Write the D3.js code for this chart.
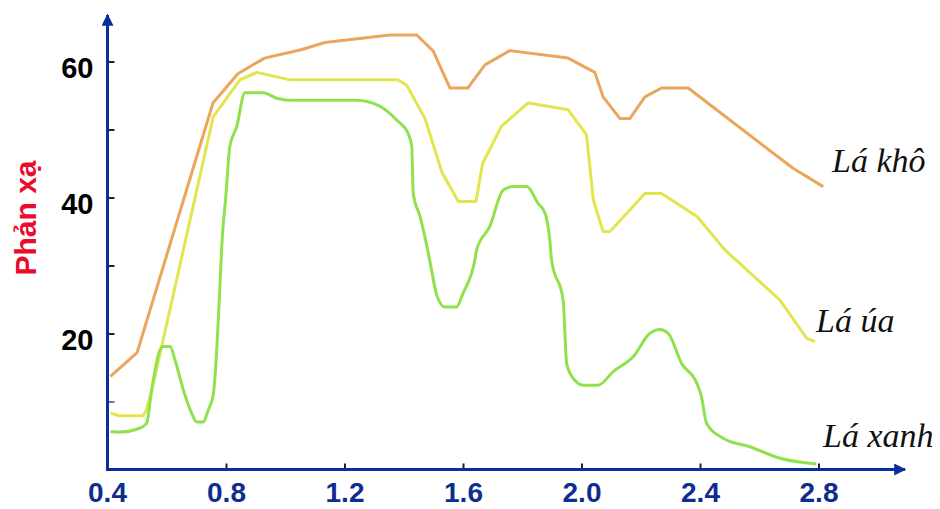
<!DOCTYPE html>
<html>
<head>
<meta charset="utf-8">
<script src="https://cdn.jsdelivr.net/npm/d3@7"></script>
<style>
  body { margin: 0; background: #fff; }
  svg { display: block; }
  .tick-x text { font-family: "Liberation Sans", Arial, sans-serif; font-weight: bold; fill: #0d2d8f; }
  .tick-y text { font-family: "Liberation Sans", Arial, sans-serif; font-weight: bold; fill: #000; }
  .series-label { font-family: "Liberation Serif", "Times New Roman", serif; font-style: italic; fill: #111; }
</style>
</head>
<body>
<div id="chart"></div>
<script>
// wavelength ticks (µm) and reflectance ticks (%)
const xTicks = [0.4, 0.8, 1.2, 1.6, 2.0, 2.4, 2.8];
const yTicks = [10, 20, 30, 40, 50, 60];
const yLabels = [20, 40, 60];

// Lá khô (dry leaf)
const dryX = [0.41, 0.50, 0.756, 0.84, 0.93, 1.05, 1.134, 1.353, 1.444, 1.50, 1.556, 1.616, 1.674, 1.758, 1.955, 2.045, 2.073, 2.13, 2.163, 2.214, 2.27, 2.36, 2.714, 2.816];
const dryY = [13.7, 17.2, 53.9, 58.2, 60.5, 61.7, 62.8, 63.9, 63.9, 61.5, 56.1, 56.1, 59.5, 61.6, 60.5, 58.4, 54.8, 51.6, 51.6, 54.8, 56.1, 56.1, 44.3, 41.6];

// Lá úa (yellowing leaf)
const yellowX = [0.41, 0.44, 0.52, 0.53, 0.55, 0.757, 0.847, 0.904, 1.016, 1.38, 1.41, 1.472, 1.528, 1.584, 1.644, 1.666, 1.73, 1.82, 1.955, 2.017, 2.04, 2.073, 2.096, 2.214, 2.27, 2.39, 2.484, 2.67, 2.76, 2.788];
const yellowY = [8.3, 7.9, 7.9, 8.6, 11.7, 51.9, 57.3, 58.4, 57.3, 57.3, 56.5, 51.6, 43.8, 39.4, 39.4, 45.0, 50.5, 53.9, 52.9, 49.2, 39.6, 35.0, 35.0, 40.6, 40.6, 37.2, 32.3, 24.9, 19.3, 18.8];

// Lá xanh (green leaf)
const greenX = [0.41, 0.44, 0.51, 0.532, 0.549, 0.577, 0.588, 0.611, 0.628, 0.656, 0.684, 0.701, 0.723, 0.74, 0.757, 0.78, 0.785, 0.80, 0.813, 0.836, 0.864, 0.926, 0.971, 1.016, 1.24, 1.32, 1.376, 1.415, 1.427, 1.432, 1.455, 1.483, 1.494, 1.511, 1.539, 1.578, 1.60, 1.64, 1.646, 1.69, 1.736, 1.77, 1.815, 1.854, 1.877, 1.893, 1.899, 1.938, 1.95, 1.972, 2.006, 2.056, 2.107, 2.175, 2.23, 2.265, 2.293, 2.338, 2.389, 2.405, 2.422, 2.478, 2.568, 2.67, 2.793];
const greenY = [5.6, 5.5, 6.1, 6.8, 11.7, 17.6, 18.1, 18.1, 16.1, 11.7, 8.3, 7.0, 7.0, 8.75, 11.0, 27.4, 32.3, 40.5, 47.5, 50.4, 55.4, 55.4, 54.6, 54.3, 54.3, 53.4, 51.4, 49.4, 47.5, 40.6, 37.2, 31.8, 29.3, 25.7, 23.9, 23.9, 25.9, 30.8, 32.3, 35.7, 41.1, 41.6, 41.6, 39.1, 37.7, 33.75, 30.8, 24.9, 15.6, 13.4, 12.4, 12.4, 14.4, 16.6, 20.0, 20.6, 20.0, 15.6, 12.7, 10.7, 6.8, 4.6, 3.35, 1.65, 0.8];

const seriesNames = ["Lá khô", "Lá úa", "Lá xanh"];
const seriesColors = ["#eba55c", "#e3e54f", "#8fe24c"];

const width = 940, height = 509;
const axisColor = "#0a2e9e";

const svg = d3.select("#chart").append("svg")
    .attr("width", width)
    .attr("height", height);

const x = d3.scaleLinear().domain([0.4, 2.8]).range([107.5, 818.5]);
const y = d3.scaleLinear().domain([0, 60]).range([469.5, 61.5]);

// arrow heads
const defs = svg.append("defs");
defs.append("marker")
    .attr("id", "arrow")
    .attr("viewBox", "0 0 10 10")
    .attr("refX", 9).attr("refY", 5)
    .attr("markerWidth", 5).attr("markerHeight", 4)
    .attr("markerUnits", "strokeWidth")
    .attr("orient", "auto")
  .append("path")
    .attr("d", "M0,0 L10,5 L0,10 z")
    .attr("fill", axisColor);

// series lines (the green one is traced smooth, the others are polylines)
const series = [
  { name: seriesNames[0], color: seriesColors[0], pts: d3.zip(dryX, dryY), curve: d3.curveLinear },
  { name: seriesNames[1], color: seriesColors[1], pts: d3.zip(yellowX, yellowY), curve: d3.curveLinear },
  { name: seriesNames[2], color: seriesColors[2], pts: d3.zip(greenX, greenY), curve: d3.curveMonotoneX }
];

const line = d3.line()
    .x(d => x(d[0]))
    .y(d => y(d[1]));

svg.append("g").selectAll("path")
    .data(series)
  .join("path")
    .attr("d", d => line.curve(d.curve)(d.pts))
    .attr("fill", "none")
    .attr("stroke", d => d.color)
    .attr("stroke-width", 3)
    .attr("stroke-linejoin", "round");

// x axis
const xAxis = d3.axisBottom(x)
    .tickValues(xTicks.slice(1))
    .tickFormat(d3.format(".1f"))
    .tickSizeInner(-6)
    .tickSizeOuter(0)
    .tickPadding(13);

const xg = svg.append("g")
    .attr("class", "tick-x")
    .attr("transform", `translate(0,${y(0)})`)
    .call(xAxis);
xg.select(".domain").remove();
xg.selectAll("line").attr("stroke", "#222").attr("stroke-width", 2);
xg.selectAll("text").attr("font-size", 28).attr("dy", "0.71em");

// 0.4 label sits at the origin
xg.append("text")
    .attr("x", x(0.4))
    .attr("y", 13)
    .attr("dy", "0.71em")
    .attr("text-anchor", "middle")
    .attr("font-size", 28)
    .text(d3.format(".1f")(xTicks[0]));

svg.append("line")
    .attr("x1", x(0.4) - 1.5).attr("y1", y(0))
    .attr("x2", 905).attr("y2", y(0))
    .attr("stroke", axisColor)
    .attr("stroke-width", 3)
    .attr("marker-end", "url(#arrow)");

// y axis
const yAxis = d3.axisLeft(y)
    .tickValues(yTicks)
    .tickFormat(d => yLabels.includes(d) ? d : "")
    .tickSizeInner(-7)
    .tickSizeOuter(0)
    .tickPadding(14);

const yg = svg.append("g")
    .attr("class", "tick-y")
    .attr("transform", `translate(${x(0.4)},0)`)
    .call(yAxis);
yg.select(".domain").remove();
yg.selectAll("line")
    .attr("stroke", d => d === 10 ? "#777" : "#222")
    .attr("stroke-width", 2);
yg.selectAll("text").attr("font-size", 29).attr("dy", "0.55em");

svg.append("line")
    .attr("x1", x(0.4)).attr("y1", y(0) + 1.5)
    .attr("x2", x(0.4)).attr("y2", 15)
    .attr("stroke", axisColor)
    .attr("stroke-width", 3)
    .attr("marker-end", "url(#arrow)");

// y title
svg.append("text")
    .attr("transform", "translate(36,218) rotate(-90)")
    .attr("text-anchor", "middle")
    .attr("font-family", "'Liberation Sans', Arial, sans-serif")
    .attr("font-weight", "bold")
    .attr("font-size", 30)
    .attr("fill", "#ea0b2d")
    .text("Phản xạ");

// series labels
const labelPos = [[832, 172], [816, 332], [823, 447]];
svg.append("g").selectAll("text")
    .data(series)
  .join("text")
    .attr("class", "series-label")
    .attr("x", (d, i) => labelPos[i][0])
    .attr("y", (d, i) => labelPos[i][1])
    .attr("font-size", 34)
    .text(d => d.name);
</script>
</body>
</html>
